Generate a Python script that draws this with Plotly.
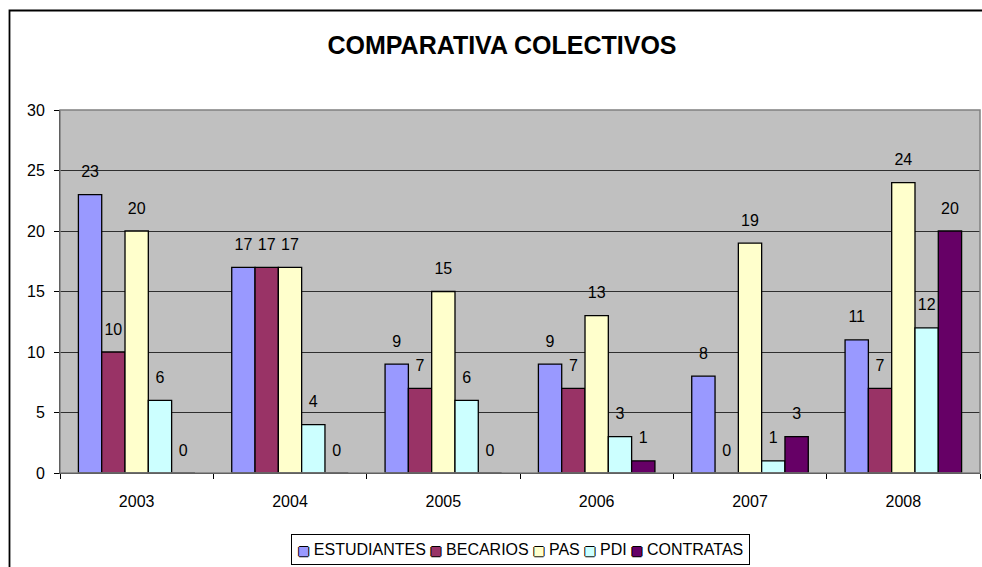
import plotly.graph_objects as go

# Data
years = ["2003", "2004", "2005", "2006", "2007", "2008"]
series_names = ["ESTUDIANTES", "BECARIOS", "PAS", "PDI", "CONTRATAS"]
estudiantes = [23, 17, 9, 9, 8, 11]
becarios = [10, 17, 7, 7, 0, 7]
pas = [20, 17, 15, 13, 19, 24]
pdi = [6, 4, 6, 3, 1, 12]
contratas = [0, 0, 0, 1, 3, 20]
y_ticks = [0, 5, 10, 15, 20, 25, 30]

series_values = [estudiantes, becarios, pas, pdi, contratas]
colors = ["#9999FF", "#993366", "#FFFFCC", "#CCFFFF", "#660066"]

FONT = "Liberation Sans, Arial, sans-serif"

# plot area in pixels
L, R, T, B = 60, 2, 110, 94
W, H = 982, 567
pw, ph = W - L - R, H - T - B


def px_x(px):
    return (px - L) / pw


def px_y(py):
    return (H - B - py) / ph


fig = go.Figure()

for name, vals, col in zip(series_names, series_values, colors):
    fig.add_trace(go.Bar(
        name=name, x=years, y=vals,
        marker=dict(color=col, line=dict(color="#000000", width=1.3)),
        offsetgroup=name, showlegend=False,
    ))

# value labels, grouped to sit over each bar
for name, vals in zip(series_names, series_values):
    fig.add_trace(go.Scatter(
        x=years, y=vals, mode="markers+text", text=[str(v) for v in vals],
        textposition="top center",
        textfont=dict(family=FONT, size=16, color="#000000"),
        marker=dict(size=20, opacity=0),
        offsetgroup=name, showlegend=False, hoverinfo="skip",
        cliponaxis=False,
    ))

# compact legend: outlined coloured squares followed by the series names
SQ = ("font-family:DejaVu Sans;font-size:12px;"
      "text-shadow:1px 0 0 #000,-1px 0 0 #000,0 1px 0 #000,0 -1px 0 #000")
legend_text = " ".join(
    f"<span style='{SQ};color:{col}'>■</span> {name}"
    for name, col in zip(series_names, colors)
)

fig.update_layout(
    width=W, height=H,
    margin=dict(l=L, r=R, t=T, b=B),
    paper_bgcolor="#FFFFFF",
    plot_bgcolor="#C0C0C0",
    barmode="group", bargap=0.24, bargroupgap=0,
    scattermode="group", scattergap=0.24,
    font=dict(family=FONT, size=16, color="#000000"),
    title=dict(
        text="<b>COMPARATIVA COLECTIVOS</b>",
        font=dict(family=FONT, size=25, color="#000000"),
        x=502 / W, xanchor="center", xref="container",
        y=1 - 45 / H, yanchor="middle", yref="container",
    ),
    showlegend=False,
    xaxis=dict(
        type="category", showgrid=False, showline=True,
        linecolor="#000000", linewidth=1,
        ticks="outside", ticklen=5, tickcolor="#000000",
        tickson="boundaries", ticklabelstandoff=14,
        tickfont=dict(family=FONT, size=16),
        fixedrange=True,
    ),
    yaxis=dict(
        range=[0, 30], tickvals=y_ticks,
        showgrid=True, gridcolor="#2E2E2E", gridwidth=1,
        showline=True, linecolor="#000000", linewidth=1,
        ticks="outside", ticklen=5, tickcolor="#000000",
        ticklabelstandoff=6, zeroline=False,
        tickfont=dict(family=FONT, size=16),
        fixedrange=True,
    ),
    annotations=[
        dict(text=legend_text, xref="paper", yref="paper",
             x=0.5, y=px_y(549), xanchor="center", yanchor="middle",
             showarrow=False,
             font=dict(family=FONT, size=16, color="#000000"),
             bordercolor="#000000", borderwidth=1, borderpad=6,
             bgcolor="#FFFFFF"),
    ],
    shapes=[
        # plot area frame
        dict(type="rect", xref="paper", yref="paper", x0=0, x1=1, y0=0, y1=1,
             line=dict(color="#808080", width=1.5), layer="above"),
        # chart area frame
        dict(type="rect", xref="paper", yref="paper",
             x0=px_x(9.5), x1=px_x(1000), y0=px_y(600), y1=px_y(10.5),
             line=dict(color="#000000", width=1.8), layer="above"),
    ],
)

fig.write_html("out.html")
